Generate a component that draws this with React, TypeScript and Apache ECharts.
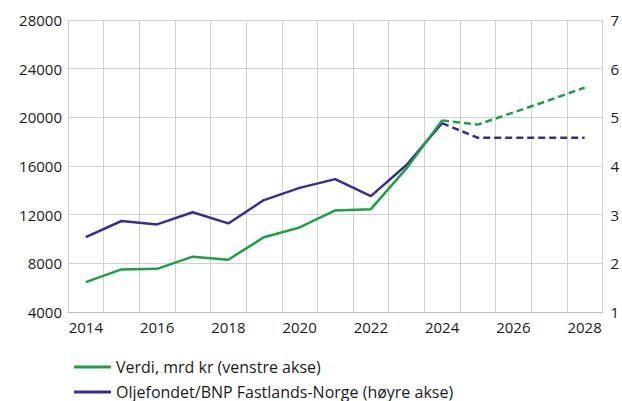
import React, { useEffect, useRef } from "react";
import * as echarts from "echarts";

const years = ["2014","2015","2016","2017","2018","2019","2020","2021","2022","2023","2024","2025","2026","2027","2028"];
const verdiActual: (number | null)[] = [6450, 7500, 7550, 8550, 8300, 10150, 10950, 12350, 12450, 15800, 19750, null, null, null, null];
const verdiProjection: (number | null)[] = [null, null, null, null, null, null, null, null, null, null, 19750, 19400, 20400, 21400, 22450];
const ratioActual: (number | null)[] = [2.54, 2.87, 2.8, 3.05, 2.82, 3.3, 3.55, 3.73, 3.38, 4.02, 4.88, null, null, null, null];
const ratioProjection: (number | null)[] = [null, null, null, null, null, null, null, null, null, null, 4.88, 4.58, 4.58, 4.58, 4.58];
const leftTicks = { min: 4000, max: 28000, interval: 4000 };
const rightTicks = { min: 1, max: 7, interval: 1 };
const seriesNames = ["Verdi, mrd kr (venstre akse)", "Oljefondet/BNP Fastlands-Norge (høyre akse)"];

const GREEN = "#1e9e48";
const PURPLE = "#3d2a93";
const FONT = "Open Sans";

const legendBase = {
  orient: "horizontal",
  left: 74,
  padding: 0,
  itemWidth: 37,
  itemHeight: 3,
  icon: "rect",
  textStyle: { fontFamily: FONT, fontSize: 16, lineHeight: 16, color: "#1a1a1a" },
};

export default function App() {
  const ref = useRef<HTMLDivElement>(null);
  useEffect(() => {
    if (!ref.current) return;
    const chart = echarts.init(ref.current, undefined, { renderer: "svg" });
    chart.setOption({
      animation: false,
      textStyle: { fontFamily: FONT },
      grid: { left: 68, right: 19, top: 20, bottom: 89, containLabel: false },
      legend: [
        { ...legendBase, top: 359, data: [seriesNames[0]] },
        { ...legendBase, top: 384, data: [seriesNames[1]] },
      ],
      xAxis: {
        type: "category",
        data: years,
        boundaryGap: true,
        axisLine: { lineStyle: { color: "#bfbfbf", width: 1 } },
        axisTick: { show: false },
        axisLabel: { interval: 1, color: "#1a1a1a", fontSize: 15, fontFamily: FONT, margin: 7 },
        splitLine: { show: true, interval: 0, lineStyle: { color: "#d0d0d0", width: 1 } },
      },
      yAxis: [
        {
          type: "value",
          ...leftTicks,
          axisLine: { show: true, lineStyle: { color: "#d0d0d0" } },
          axisTick: { show: false },
          axisLabel: { color: "#1a1a1a", fontSize: 15, fontFamily: FONT, margin: 6, formatter: (v: number) => String(v) },
          splitLine: { show: true, lineStyle: { color: "#d0d0d0", width: 1 } },
        },
        {
          type: "value",
          ...rightTicks,
          position: "right",
          axisLine: { show: true, lineStyle: { color: "#d0d0d0" } },
          axisTick: { show: false },
          axisLabel: { color: "#1a1a1a", fontSize: 15, fontFamily: FONT, margin: 8 },
          splitLine: { show: false },
        },
      ],
      series: [
        {
          name: seriesNames[0],
          type: "line",
          yAxisIndex: 0,
          data: verdiActual,
          symbol: "none",
          itemStyle: { color: GREEN },
          lineStyle: { color: GREEN, width: 2.5 },
          z: 3,
        },
        {
          name: seriesNames[0] + " proj",
          type: "line",
          yAxisIndex: 0,
          data: verdiProjection,
          symbol: "none",
          itemStyle: { color: GREEN },
          lineStyle: { color: GREEN, width: 2.5, type: [7, 4] },
          z: 3,
        },
        {
          name: seriesNames[1],
          type: "line",
          yAxisIndex: 1,
          data: ratioActual,
          symbol: "none",
          itemStyle: { color: PURPLE },
          lineStyle: { color: PURPLE, width: 2.5 },
          z: 2,
        },
        {
          name: seriesNames[1] + " proj",
          type: "line",
          yAxisIndex: 1,
          data: ratioProjection,
          symbol: "none",
          itemStyle: { color: PURPLE },
          lineStyle: { color: PURPLE, width: 2.5, type: [7, 4] },
          z: 2,
        },
      ],
    });
    return () => chart.dispose();
  }, []);
  return <div ref={ref} style={{ width: 622, height: 401, position: "absolute", left: 0, top: 0, background: "#fff" }} />;
}
